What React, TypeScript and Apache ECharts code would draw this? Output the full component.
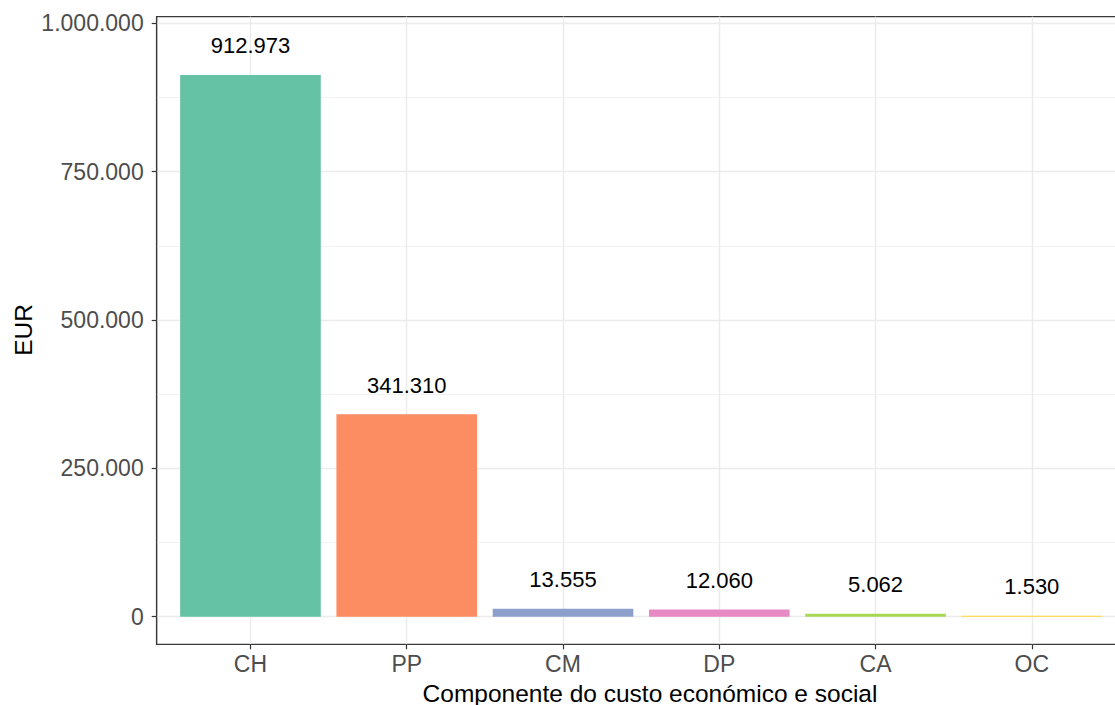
import React, { useEffect, useRef } from "react";
import * as echarts from "echarts";

const categories = ["CH", "PP", "CM", "DP", "CA", "OC"];
const values = [912973, 341310, 13555, 12060, 5062, 1530];
const barColors = ["#66C2A5", "#FC8D62", "#8DA0CB", "#E78AC3", "#A6D854", "#FFD92F"];
const yTicks = [0, 250000, 500000, 750000, 1000000];
const yMinorTicks = [125000, 375000, 625000, 875000];
const yMin = -46500;
const yMax = 1011000;
const xMin = -0.6;
const xMax = 5.6;
const xTitle = "Componente do custo económico e social";
const yTitle = "EUR";

const FONT = "'Liberation Sans', Arial, Helvetica, sans-serif";
const fmt = (v: number) =>
  Math.round(v).toString().replace(/\B(?=(\d{3})+(?!\d))/g, ".");

export default function App() {
  const ref = useRef<HTMLDivElement>(null);
  useEffect(() => {
    document.body.style.margin = "0";
    if (!ref.current) return;
    const chart = echarts.init(ref.current, null, { renderer: "svg" });
    const xPositions = categories.map((_, i) => i);
    chart.setOption({
      animation: false,
      backgroundColor: "#ffffff",
      grid: {
        left: 156.7,
        top: 16.7,
        right: -10.6,
        bottom: 60.7,
        show: true,
        borderColor: "#3a3a3a",
        borderWidth: 1.2,
        backgroundColor: "transparent",
        containLabel: false,
        outerBoundsMode: "none",
      },
      xAxis: [
        {
          type: "value",
          min: xMin,
          max: xMax,
          axisLine: { show: false, onZero: false },
          axisTick: {
            show: true,
            length: 5,
            customValues: xPositions,
            lineStyle: { color: "#333333", width: 1.2 },
          },
          axisLabel: {
            customValues: xPositions,
            formatter: (v: number) => categories[Math.round(v)] ?? "",
            margin: 8,
            fontSize: 23,
            color: "#4D4D4D",
            fontFamily: FONT,
          },
          splitLine: { show: true, lineStyle: { color: "#EBEBEB", width: 1.4 } },
        },
      ],
      yAxis: [
        {
          type: "value",
          min: yMin,
          max: yMax,
          position: "left",
          axisLine: { show: true, onZero: false, lineStyle: { color: "#3a3a3a", width: 1.2 } },
          axisTick: {
            show: true,
            length: 5,
            customValues: yTicks,
            lineStyle: { color: "#333333", width: 1.2 },
          },
          axisLabel: {
            customValues: yTicks,
            formatter: (v: number) => fmt(v),
            margin: 13,
            fontSize: 23,
            color: "#4D4D4D",
            fontFamily: FONT,
          },
          splitLine: { show: true, lineStyle: { color: "#EBEBEB", width: 1.4 } },
        },
        {
          type: "value",
          min: yMin,
          max: yMax,
          position: "left",
          axisLine: { show: false, onZero: false },
          axisTick: { show: false, customValues: yMinorTicks },
          axisLabel: { show: false, customValues: yMinorTicks },
          splitLine: { show: true, lineStyle: { color: "#F2F2F2", width: 1.2 } },
        },
      ],
      series: [
        {
          type: "bar",
          xAxisIndex: 0,
          yAxisIndex: 0,
          barWidth: "90%",
          data: values.map((v, i) => ({
            value: [i, v],
            itemStyle: { color: barColors[i] },
          })),
          label: {
            show: true,
            position: "top",
            distance: 18,
            formatter: (p: any) => fmt(p.value[1]),
            fontSize: 22,
            color: "#000000",
            fontFamily: FONT,
          },
        },
      ],
      graphic: [
        {
          type: "text",
          x: 650,
          y: 693,
          style: {
            text: xTitle,
            fontSize: 24.5,
            fontFamily: FONT,
            fill: "#000000",
            align: "center",
            verticalAlign: "middle",
          },
        },
        {
          type: "text",
          x: 23.5,
          y: 330,
          rotation: Math.PI / 2,
          style: {
            text: yTitle,
            fontSize: 24.5,
            fontFamily: FONT,
            fill: "#000000",
            align: "center",
            verticalAlign: "middle",
          },
        },
      ],
    });
    return () => chart.dispose();
  }, []);
  return <div ref={ref} style={{ width: 1115, height: 705 }} />;
}
